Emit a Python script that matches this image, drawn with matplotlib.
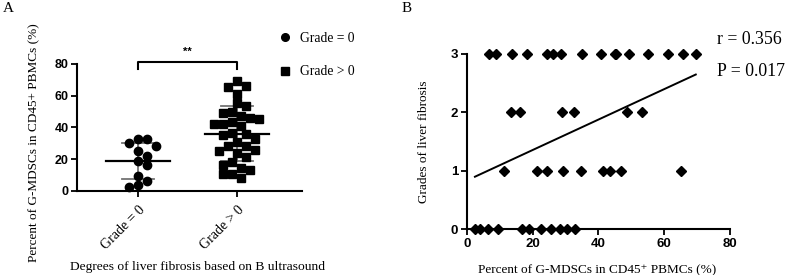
import numpy as np
import matplotlib
matplotlib.use("Agg")
import matplotlib.pyplot as plt
from matplotlib.lines import Line2D

# ---- data ----
# Panel A: % G-MDSCs in CD45+ PBMCs by fibrosis group
grade0_pct = [32.6, 32.6, 30.3, 28.4, 25.3, 22.1, 18.9, 16.2, 9.3, 6.1, 3.6, 2.1]
gradepos_pct = [69.5, 66.1, 65.7, 61.1, 55.2, 53.5, 49.9, 48.9, 47.2, 45.7, 45.1,
                43.6, 42.1, 41.9, 40.9, 36.2, 35.8, 35.2, 32.4, 30.6, 28.2, 28.2,
                25.7, 25.1, 23.6, 21.1, 18.3, 16.2, 14.5, 13.1, 10.5, 10.5, 7.8]
groups = ["Grade = 0", "Grade > 0"]

# Panel B: grade vs % G-MDSCs
b_grade3 = [6.7, 9.0, 13.7, 18.2, 24.3, 26.3, 28.7, 34.9, 40.7, 45.0, 45.5,
            49.4, 55.0, 61.1, 65.8, 69.6]
b_grade2 = [13.4, 16.2, 29.1, 32.5, 48.7, 53.4]
b_grade1 = [11.2, 21.4, 24.4, 29.2, 34.6, 41.5, 43.4, 46.8, 65.1]
b_grade0 = [2.5, 4.1, 6.5, 9.4, 16.8, 18.8, 22.6, 25.5, 28.2, 30.4, 32.8]
r_text = "r = 0.356"
p_text = "P = 0.017"

SERIF = ["Liberation Serif", "DejaVu Serif"]
SANS = "Liberation Sans"


def swarm_offsets(vals, xscale, yscale, diam):
    """Simple deterministic beeswarm: returns x offsets (data units)."""
    order = np.argsort(vals)[::-1]
    placed = []
    offs = np.zeros(len(vals))
    for i in order:
        y = vals[i] * yscale
        k = 0
        while True:
            cands = [0.0] if k == 0 else [k * diam * 0.5, -k * diam * 0.5]
            ok = None
            for c in cands:
                if all((c - px) ** 2 + (y - py) ** 2 >= diam ** 2 for px, py in placed):
                    ok = c
                    break
            if ok is not None:
                placed.append((ok, y))
                offs[i] = ok / xscale
                break
            k += 1
    return offs


fig = plt.figure(figsize=(7.87, 2.75), dpi=100)

# ---------------- Panel A ----------------
axA = fig.add_axes([77 / 787, 1 - 190.7 / 275, 225 / 787, 126.7 / 275])
axA.set_xlim(-0.616, 1.657)
axA.set_ylim(0, 80)

xpx = 99.0          # px per category unit
ypx = 126.7 / 80    # px per % unit
for i, (vals, mk) in enumerate([(grade0_pct, "o"), (gradepos_pct, "s")]):
    v = np.array(vals)
    off = swarm_offsets(v, xpx, ypx, 9.0)
    axA.plot(i + off, v, mk, color="black", ms=6.0 if mk == "o" else 5.6, ls="none",
             clip_on=False, zorder=3)
    m, sd = v.mean(), v.std(ddof=1)
    axA.plot([i - 0.32, i + 0.32], [m, m], color="black", lw=1.6, zorder=4)
    axA.plot([i - 0.16, i + 0.16], [m + sd, m + sd], color="0.45", lw=1.3, zorder=2)
    axA.plot([i - 0.16, i + 0.16], [m - sd, m - sd], color="0.45", lw=1.3, zorder=2)
    axA.plot([i, i], [m - sd, m + sd], color="0.45", lw=1.3, zorder=2)

# significance bracket
axA.plot([0, 0, 1, 1], [77, 81.5, 81.5, 77], color="black", lw=1.5, clip_on=False)
axA.text(0.5, 84.5, "**", ha="center", va="bottom", fontsize=8, fontweight="bold",
         family=SANS)

axA.set_xticks([0, 1])
axA.set_xticklabels(groups, rotation=45, ha="right", rotation_mode="anchor",
                    family=SERIF, fontsize=10)
axA.set_yticks([0, 20, 40, 60, 80])
for lab in axA.get_yticklabels():
    lab.set_family(SANS)
    lab.set_fontweight("bold")
    lab.set_fontsize(9)
axA.spines[["top", "right"]].set_visible(False)
for s in ["left", "bottom"]:
    axA.spines[s].set_linewidth(1.5)
axA.tick_params(width=1.3, length=4, pad=2)
axA.tick_params(axis="x", pad=5)
axA.set_ylabel("Percent of G-MDSCs in CD45+ PBMCs (%)", family=SERIF, fontsize=9.5)
axA.yaxis.set_label_coords(-0.165, 0.38)
fig.text(197 / 787, 1 - 267 / 275, "Degrees of liver fibrosis based on B ultrasound",
         ha="center", va="center", family=SERIF, fontsize=9.7)

handles = [Line2D([], [], marker="o", color="black", ls="none", ms=5.5),
           Line2D([], [], marker="s", color="black", ls="none", ms=5.2)]
fig.legend(handles, groups, loc="upper left", bbox_to_anchor=(278 / 787, 1 - 32 / 275),
           frameon=False, prop={"family": SERIF, "size": 9.8}, handlelength=1.0,
           handletextpad=0.6, labelspacing=1.5, borderpad=0, borderaxespad=0)

fig.text(8 / 787, 1 - 9 / 275, "A", ha="center", va="center", family=SERIF, fontsize=11)

# ---------------- Panel B ----------------
axB = fig.add_axes([466.7 / 787, 1 - 229.3 / 275, 263.3 / 787, 175.3 / 275])
axB.set_xlim(0, 80)
axB.set_ylim(0, 3)

bx, by = [], []
for g, xs in [(3, b_grade3), (2, b_grade2), (1, b_grade1), (0, b_grade0)]:
    bx += xs
    by += [g] * len(xs)
bx, by = np.array(bx), np.array(by)
axB.plot(bx, by, "D", color="black", ms=4.6, ls="none", clip_on=False, zorder=3)

slope, icpt = np.polyfit(bx, by, 1)
xl = np.array([bx.min(), bx.max()])
axB.plot(xl, slope * xl + icpt, color="black", lw=1.4)

axB.set_xticks([0, 20, 40, 60, 80])
axB.set_yticks([0, 1, 2, 3])
for lab in axB.get_xticklabels() + axB.get_yticklabels():
    lab.set_family(SANS)
    lab.set_fontweight("bold")
    lab.set_fontsize(9.5)
axB.spines[["top", "right"]].set_visible(False)
for s in ["left", "bottom"]:
    axB.spines[s].set_linewidth(1.5)
axB.tick_params(width=1.3, length=4, pad=2)
axB.set_ylabel("Grades of liver fibrosis", family=SERIF, fontsize=9.5)
axB.yaxis.set_label_coords(-0.139, 0.5)
fig.text(597 / 787, 1 - 270 / 275, "Percent of G-MDSCs in CD45\u207a PBMCs (%)",
         ha="center", va="center", family=SERIF, fontsize=9.5)

fig.text(717 / 787, 1 - 40 / 275, r_text, ha="left", va="center", family=SERIF, fontsize=12.8)
fig.text(717 / 787, 1 - 72 / 275, p_text, ha="left", va="center", family=SERIF, fontsize=12.8)
fig.text(407 / 787, 1 - 9 / 275, "B", ha="center", va="center", family=SERIF, fontsize=11)

fig.savefig("out.png", dpi=100)
